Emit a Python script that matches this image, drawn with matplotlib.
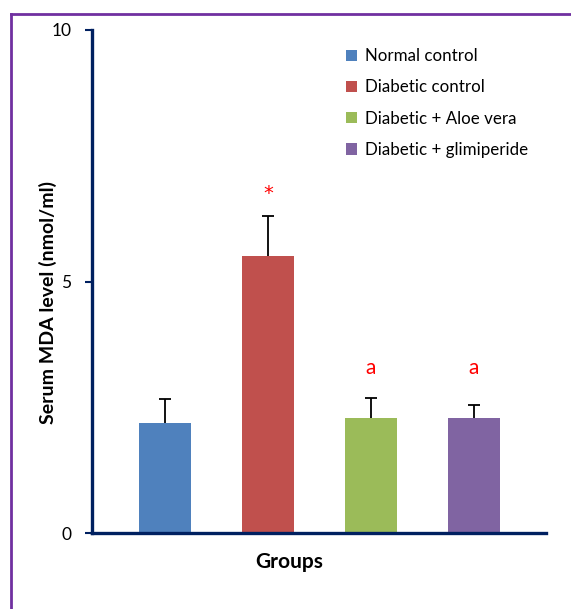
import matplotlib
matplotlib.use("Agg")
import matplotlib.pyplot as plt
from matplotlib.lines import Line2D

plt.rcParams['font.family'] = ['Lato', 'DejaVu Sans']

# values
groups = ['Normal control', 'Diabetic control', 'Diabetic + Aloe vera', 'Diabetic + glimiperide']
mda = [2.19, 5.51, 2.29, 2.29]
sd = [0.47, 0.79, 0.39, 0.25]
marks = ['', '*', 'a', 'a']
colors = ['#4F81BD', '#C0504D', '#9BBB59', '#8064A2']

navy = '#002060'

fig = plt.figure(figsize=(5.71, 6.09), dpi=100)
W, H = 571, 609
ax = fig.add_axes([92 / W, 1 - 533 / H, (546 - 92) / W, (533 - 30) / H])

x = list(range(len(groups)))
bars = ax.bar(x, mda, width=0.505, color=colors, zorder=2)
eb = ax.errorbar(x, mda, yerr=[[0] * len(sd), sd], fmt='none', ecolor='black',
                 elinewidth=1.3, capsize=4.5, capthick=1.3, zorder=3)
# only the upper cap is shown
eb[1][0].set_visible(False)

# significance letters: 'a' letters sit on one line above the tallest of their bars
a_top = max(m + s for m, s, lab in zip(mda, sd, marks) if lab == 'a')
for xi, m, s, lab in zip(x, mda, sd, marks):
    if lab == '*':
        ax.text(xi, m + s + 0.45, lab, color='red', ha='center', va='center',
                fontsize=14, family='DejaVu Sans')
    elif lab:
        ax.text(xi, a_top + 0.6, lab, color='red', ha='center', va='center', fontsize=15)

ax.set_xlim(-0.709, 3.70)
ax.set_ylim(0, 10)
ax.set_yticks([0, 5, 10])
ax.tick_params(axis='y', direction='out', length=5, width=1.5, color=navy,
               labelsize=12.5, pad=10)
ax.set_xticks([])
for side in ['top', 'right']:
    ax.spines[side].set_visible(False)
for side in ['left', 'bottom']:
    ax.spines[side].set_color(navy)
    ax.spines[side].set_linewidth(2.4)

fig.text(289 / W, 1 - 562 / H, 'Groups', ha='center', va='center',
         fontsize=15, fontweight='bold')
fig.text(48 / W, 1 - 303 / H, 'Serum MDA level (nmol/ml)', ha='center', va='center',
         rotation=90, fontsize=14, fontweight='bold')

ax.legend(bars, groups, loc='upper left', bbox_to_anchor=(331 / W, 1 - 33 / H),
          bbox_transform=fig.transFigure, frameon=False, fontsize=12.2,
          handlelength=0.65, handleheight=0.65, handletextpad=0.45, labelspacing=0.9)

# purple outer frame (top and left edges)
fig.add_artist(Line2D([10.5 / W, 1], [1 - 13.5 / H, 1 - 13.5 / H], color='#7030A0',
                      linewidth=2, transform=fig.transFigure))
fig.add_artist(Line2D([10.5 / W, 10.5 / W], [0, 1 - 13.5 / H], color='#7030A0',
                      linewidth=2, transform=fig.transFigure))

plt.savefig('out.png', dpi=100)
plt.close(fig)
